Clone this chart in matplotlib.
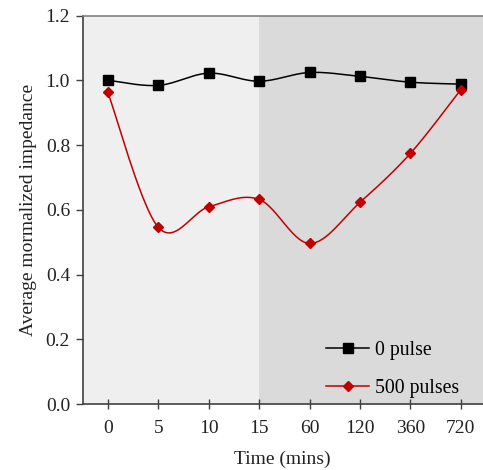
import numpy as np
import matplotlib
matplotlib.use("Agg")
import matplotlib.pyplot as plt

# data
times = ["0", "5", "10", "15", "60", "120", "360", "720"]
pulse0 = [1.000, 0.984, 1.022, 0.997, 1.024, 1.012, 0.994, 0.988]
pulse500 = [0.963, 0.546, 0.609, 0.632, 0.496, 0.623, 0.774, 0.971]
yticks = [0.0, 0.2, 0.4, 0.6, 0.8, 1.0, 1.2]

plt.rcParams['font.family'] = ['Liberation Serif', 'DejaVu Serif']


def smooth(x, y, n=30):
    # catmull-rom through the points, like excel's smoothed line
    x = np.asarray(x, float)
    y = np.asarray(y, float)
    # work in roughly pixel-proportional units
    sx, sy = 50.4, 324.0
    px = np.concatenate([[x[0]], x, [x[-1]]]) * sx
    py = np.concatenate([[y[0]], y, [y[-1]]]) * sy
    xs, ys = [], []
    t = np.linspace(0, 1, n)
    for i in range(1, len(px) - 2):
        p0, p1, p2, p3 = [np.array([px[j], py[j]]) for j in (i - 1, i, i + 1, i + 2)]
        m1 = (p2 - p0) / 6.0
        m2 = (p3 - p1) / 6.0
        b0, b1, b2, b3 = p1, p1 + m1, p2 - m2, p2
        pts = (np.outer((1 - t) ** 3, b0) + np.outer(3 * (1 - t) ** 2 * t, b1)
               + np.outer(3 * (1 - t) * t ** 2, b2) + np.outer(t ** 3, b3))
        xs.append(pts[:, 0])
        ys.append(pts[:, 1])
    return np.concatenate(xs) / sx, np.concatenate(ys) / sy


fig = plt.figure(figsize=(4.83, 4.70), dpi=100)
ax = fig.add_axes([0.171, 0.1404, 0.829, 0.8266])

xi = np.arange(len(times))
ax.axvspan(-0.5, 3, color='#efefef', lw=0, zorder=0)
ax.axvspan(3, 8, color='#dadada', lw=0, zorder=0)

sx0, sy0 = smooth(xi, pulse0)
sx5, sy5 = smooth(xi, pulse500)
ax.plot(sx0, sy0, color='black', lw=1.1, zorder=3)
ax.plot(xi, pulse0, ls='none', marker='s', ms=7.5, color='black', zorder=4)
ax.plot(sx5, sy5, color='#c00000', lw=1.1, zorder=3)
ax.plot(xi, pulse500, ls='none', marker='D', ms=5, color='#c00000', zorder=4)

# legend handles
ax.plot([], [], color='black', lw=1.1, marker='s', ms=7.5, label='0 pulse')
ax.plot([], [], color='#c00000', lw=1.1, marker='D', ms=5, label='500 pulses')
ax.legend(loc='lower right', bbox_to_anchor=(0.985, -0.03), frameon=False,
          fontsize=14.2, handlelength=2.2, handletextpad=0.3, labelspacing=0.98)

ax.set_xlim(-0.5, 7.44)
ax.set_ylim(0, 1.2)
ax.set_xticks(xi)
ax.set_xticklabels(times)
ax.set_yticks(yticks)
ax.set_yticklabels([f"{v:.1f}" for v in yticks])
ax.tick_params(axis='x', direction='inout', length=7, width=1, colors='#404040',
               labelcolor='#222222', labelsize=14, pad=8)
ax.tick_params(axis='y', direction='out', length=5, width=1, colors='#404040',
               labelcolor='#222222', labelsize=14, pad=4)

for s in ['left', 'bottom']:
    ax.spines[s].set_color('#404040')
    ax.spines[s].set_linewidth(1.2)
ax.spines['top'].set_color('#808080')
ax.spines['top'].set_linewidth(1.2)
ax.spines['right'].set_visible(False)

ax.set_xlabel('Time (mins)', fontsize=14, color='#222222', labelpad=10)
ax.set_ylabel('Average mormalized impedance', fontsize=14, color='#222222', labelpad=6)

fig.savefig('out.png', dpi=100)
